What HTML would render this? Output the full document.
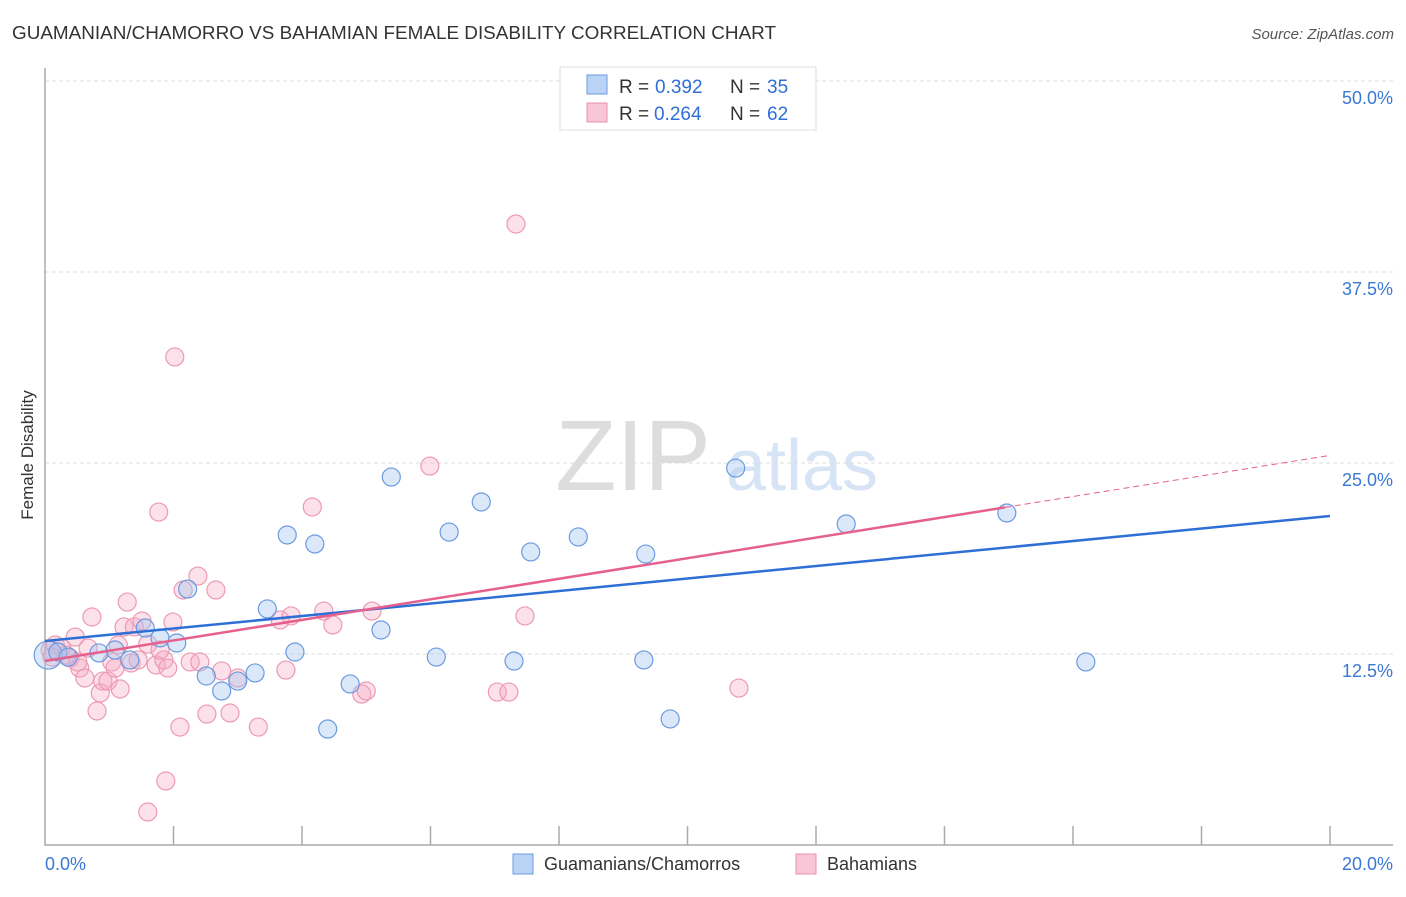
<!DOCTYPE html>
<html><head><meta charset="utf-8"><style>
body{margin:0;background:#fff;font-family:"Liberation Sans",sans-serif}
svg text{font-family:"Liberation Sans",sans-serif}
</style></head><body>
<svg id="chart" width="1406" height="892" xmlns="http://www.w3.org/2000/svg">
<text x="12" y="39" font-size="18" fill="#333" textLength="764" lengthAdjust="spacingAndGlyphs">GUAMANIAN/CHAMORRO VS BAHAMIAN FEMALE DISABILITY CORRELATION CHART</text>
<text x="1394" y="39" font-size="15" fill="#555" font-style="italic" text-anchor="end">Source: ZipAtlas.com</text>
<g><text x="633" y="490" font-size="100" fill="#ddd" font-family="Liberation Serif" text-anchor="middle">ZIP</text><text x="802" y="490" font-size="72" fill="#d6e4f5" text-anchor="middle">atlas</text></g>
<g id="grid"></g><g id="axes"></g><g id="pts"></g><g id="lines"></g>
<text transform="translate(33,455) rotate(-90)" font-size="17" fill="#333" text-anchor="middle">Female Disability</text>
<g>
<rect x="560" y="67" width="256" height="63" fill="#fff" stroke="#ddd"/>
<rect x="587" y="75" width="20" height="19" fill="#b9d3f5" stroke="#6a9be0"/>
<rect x="587" y="103" width="20" height="19" fill="#f8c6d6" stroke="#e890ab"/>
<text x="619" y="93" font-size="19" fill="#333">R =</text><text x="655" y="93" font-size="19" fill="#2e6fd6">0.392</text>
<text x="730" y="93" font-size="19" fill="#333">N =</text><text x="767" y="93" font-size="19" fill="#2e6fd6">35</text>
<text x="619" y="120" font-size="19" fill="#333">R =</text><text x="654" y="120" font-size="19" fill="#2e6fd6">0.264</text>
<text x="730" y="120" font-size="19" fill="#333">N =</text><text x="767" y="120" font-size="19" fill="#2e6fd6">62</text>
</g>
<g>
<rect x="513" y="854" width="20" height="20" fill="#b9d3f5" stroke="#6a9be0"/>
<text x="544" y="870" font-size="18" fill="#333">Guamanians/Chamorros</text>
<rect x="796" y="854" width="20" height="20" fill="#f8c6d6" stroke="#e890ab"/>
<text x="827" y="870" font-size="18" fill="#333">Bahamians</text>
</g>
</svg>
<script>
const yTicks=[12.5,25,37.5,50];
const yTickLabels=["12.5%","25.0%","37.5%","50.0%"];
const blueX=[0.05,0.2,0.36,0.84,1.09,1.32,1.56,1.79,2.05,2.22,2.51,2.75,3.00,3.27,3.46,3.77,3.89,4.20,4.40,4.75,5.23,5.39,6.09,6.29,6.79,7.30,7.56,8.30,9.32,9.35,9.73,10.75,12.47,14.97,16.20];
const blueY=[12.43,12.63,12.30,12.57,12.76,12.11,14.20,13.55,13.22,16.75,11.06,10.08,10.73,11.26,15.45,20.29,12.63,19.70,7.59,10.54,14.07,24.08,12.30,20.48,22.45,12.04,19.18,20.16,12.11,19.04,8.25,24.67,21.01,21.73,11.98];
const pinkX=[0.08,0.16,0.26,0.39,0.47,0.54,0.62,0.67,0.73,0.81,0.86,0.90,0.98,1.04,1.09,1.14,1.17,1.23,1.28,1.34,1.39,1.45,1.51,1.60,1.73,1.77,1.85,1.91,1.99,2.02,2.10,2.15,2.26,2.38,2.41,2.52,2.66,2.75,2.88,3.00,3.32,3.66,3.75,3.83,4.16,4.34,4.48,4.93,5.00,5.09,5.99,7.04,7.22,7.33,7.47,10.80,1.88,1.60,0.11,0.33,0.51,1.79];
const pinkY=[12.76,13.09,12.89,12.24,13.61,11.58,10.93,12.89,14.92,8.77,9.95,10.73,10.73,11.98,11.58,13.09,10.21,14.27,15.90,11.91,14.27,12.11,14.66,13.15,11.78,21.79,12.11,11.58,14.59,31.94,7.72,16.69,11.98,17.60,11.98,8.57,16.69,11.39,8.64,10.93,7.72,14.73,11.45,14.99,22.12,15.31,14.40,9.88,10.08,15.31,24.80,10.01,10.01,40.64,14.99,10.27,4.19,2.16,12.30,12.43,11.98,12.76];
const blueTrend=[13.35,21.53];
const pinkTrend=[12.04,25.5];
const pinkSolidEnd=14.94;
const NS="http://www.w3.org/2000/svg";
const X=v=>45+v*64.25, Y=v=>845-v*15.28;
function mk(tag,attrs,parent){const e=document.createElementNS(NS,tag);for(const k in attrs)e.setAttribute(k,attrs[k]);document.getElementById(parent).appendChild(e);return e;}
yTicks.forEach((t,i)=>{
 const l=mk('line',{x1:45,x2:1393,y1:Y(t),y2:Y(t),stroke:'#ddd','stroke-dasharray':'4,3'},'grid');
 
 
 const tx=mk('text',{x:1393,y:Y(t)+23,'font-size':18,fill:'#3a78d4','text-anchor':'end'},'grid');
 tx.textContent=yTickLabels[i];
 
 
});
const ax=mk('path',{d:'M45,68V845H1393',fill:'none',stroke:'#aaa','stroke-width':1.5},'axes');


for(let i=1;i<=10;i++){const t=mk('line',{x1:X(i*2),x2:X(i*2),y1:826,y2:845,stroke:'#aaa','stroke-width':1.5},'axes');
 
 }
const x0=mk('text',{x:45,y:870,'font-size':18,fill:'#3a78d4'},'axes');x0.textContent='0.0%';


const x1=mk('text',{x:1393,y:870,'font-size':18,fill:'#3a78d4','text-anchor':'end'},'axes');x1.textContent='20.0%';


pinkX.forEach((v,i)=>{const c=mk('circle',{cx:X(v),cy:Y(pinkY[i]),r:9,fill:'rgba(245,170,195,0.35)',stroke:'#ec9ab3','stroke-width':1.2},'pts');
 
 });
blueX.forEach((v,i)=>{const c=mk('circle',{cx:X(v),cy:Y(blueY[i]),r:i===0?14:9,fill:'rgba(165,198,240,0.4)',stroke:'#6a9be0','stroke-width':1.2},'pts');
 
 });
const pAt=x=>pinkTrend[0]+(pinkTrend[1]-pinkTrend[0])*x/20;
const bl=mk('line',{x1:X(0),y1:Y(blueTrend[0]),x2:X(20),y2:Y(blueTrend[1]),stroke:'#2e6fd6','stroke-width':2.5},'lines');


const pl=mk('line',{x1:X(0),y1:Y(pAt(0)),x2:X(pinkSolidEnd),y2:Y(pAt(pinkSolidEnd)),stroke:'#e5608d','stroke-width':2.5},'lines');


const pd=mk('line',{x1:X(pinkSolidEnd),y1:Y(pAt(pinkSolidEnd)),x2:X(20),y2:Y(pAt(20)),stroke:'#e5608d','stroke-width':1,'stroke-dasharray':'6,4'},'lines');


</script>
</body></html>
